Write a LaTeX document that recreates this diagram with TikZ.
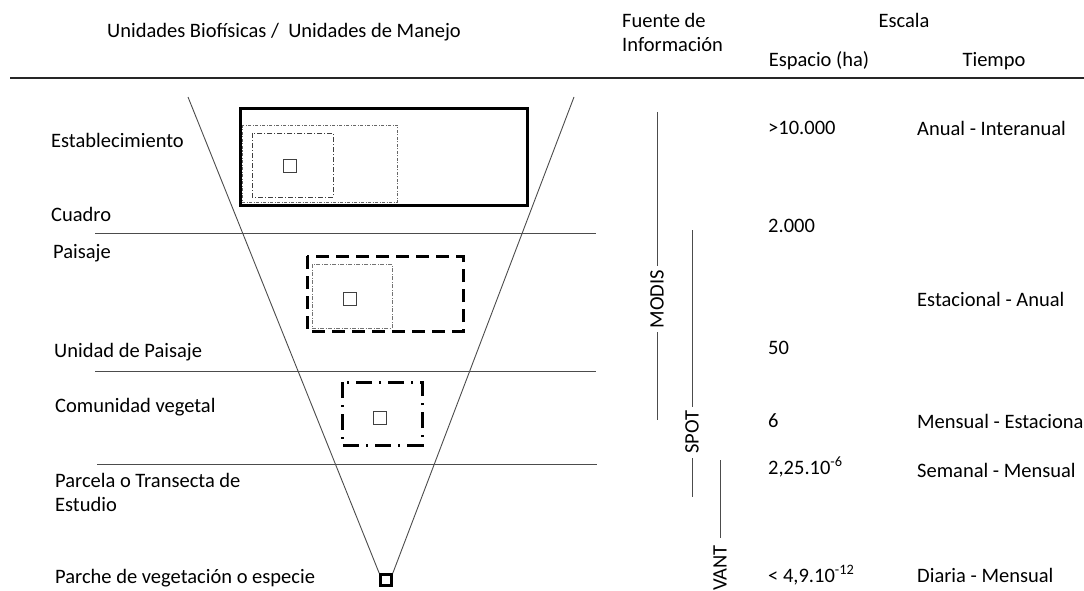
\documentclass[tikz,border=0pt]{standalone}
\usepackage{fontspec}
\setmainfont{Carlito}
\begin{document}
\begin{tikzpicture}[x=1pt,y=-1pt,
  lbl/.style={anchor=west,inner sep=0pt,font=\fontsize{20.5}{23}\selectfont,text=black},
  hdr/.style={inner sep=0pt,font=\fontsize{20.5}{23}\selectfont,text=black},
  thin/.style={draw=black!70,line width=0.9pt},
  sq/.style={draw=black!75,line width=0.8pt,minimum size=13pt,inner sep=0pt},
  src/.style={rotate=90,fill=white,inner sep=4pt,font=\fontsize{20.5}{23}\selectfont,text=black}]
\useasboundingbox (0,0) rectangle (1084,591);
% header
\node[hdr] (h1) at (284,32) {Unidades Biofísicas /\ \ Unidades de Manejo};
\node[hdr,anchor=west] (h2) at (622,20) {Fuente de};
\node[hdr,anchor=west] (h3) at (622,45) {Información};
\node[hdr] (h4) at (904,20) {Escala};
\node[hdr] (h5) at (819,61) {Espacio (ha)};
\node[hdr] (h6) at (994,61) {Tiempo};
\draw[line width=2.6pt,black!85] (10,78) -- (1084,78);
% left labels
\node[lbl] (l1) at (51,140) {Establecimiento};
\node[lbl] (l2) at (51,214) {Cuadro};
\node[lbl] (l3) at (53,253) {Paisaje};
\node[lbl] (l4) at (54,352) {Unidad de Paisaje};
\node[lbl] (l5) at (55,407) {Comunidad vegetal};
\node[lbl] (l6) at (55,480) {Parcela o Transecta de};
\node[lbl] (l6b) at (55,504) {Estudio};
\node[lbl] (l7) at (55,578) {Parche de vegetación o especie};
% horizontal separators
\draw[thin] (95,233) -- (596,233);
\draw[thin] (95,371) -- (596,371);
\draw[thin] (97,464) -- (597,464);
% funnel
\node[draw=black,line width=2.6pt,minimum size=11pt,inner sep=0pt] (patch) at (386,580) {};
\coordinate (ftl) at (188,97);
\coordinate (ftr) at (574,97);
\draw[thin] (ftl) -- (patch.north west);
\draw[thin] (ftr) -- (patch.north east);
% establecimiento boxes
\draw[line width=3pt] (240,109) rectangle (527,205);
\draw[black!60,line width=0.8pt,dash pattern=on 3pt off 1.5pt on 1pt off 1.5pt] (242,125) rectangle (397,202);
\draw[black!75,line width=0.8pt,dash pattern=on 5pt off 2pt on 1pt off 2pt] (252,133) rectangle (333,197);
\node[sq] (s1) at (290,166) {};
% paisaje boxes
\draw[line width=3pt,dash pattern=on 13pt off 7pt] (307,256) rectangle (463,331);
\draw[black!55,line width=0.8pt,dash pattern=on 4pt off 1.5pt on 1pt off 1.5pt] (312,264) rectangle (392,328);
\node[sq] (s2) at (350,299) {};
% comunidad box
\draw[line width=3pt,dash pattern=on 16pt off 7pt on 2pt off 7pt] (342,382) rectangle (422,445);
\node[sq] (s3) at (380,418) {};
% sources
\coordinate (m1) at (657,112); \coordinate (m2) at (657,420);
\draw[thin] (m1) -- node[src,pos=0.607] (modis) {MODIS} (m2);
\coordinate (p1) at (692,230); \coordinate (p2) at (692,497);
\draw[thin] (p1) -- node[src,pos=0.757] (spot) {SPOT} (p2);
\coordinate (v1) at (720,460); \coordinate (v2) at (720,538);
\draw[thin] (v1) -- (v2);
\node[src,anchor=east,fill=none,inner sep=0pt] (vant) at (720,545) {VANT};
% espacio values
\node[lbl] (e1) at (768,128) {>10.000};
\node[lbl] (e2) at (768,226) {2.000};
\node[lbl] (e3) at (768,348) {50};
\node[lbl] (e4) at (768,421) {6};
\node[lbl] (e5) at (768,467) {2,25.10\textsuperscript{-6}};
\node[lbl] (e6) at (768,575) {< 4,9.10\textsuperscript{-12}};
% tiempo values
\node[lbl] (t1) at (917,128) {Anual - Interanual};
\node[lbl] (t2) at (917,299) {Estacional - Anual};
\node[lbl] (t3) at (917,421) {Mensual - Estacional};
\node[lbl] (t4) at (917,470) {Semanal - Mensual};
\node[lbl] (t5) at (917,575) {Diaria - Mensual};
\end{tikzpicture}
\end{document}
